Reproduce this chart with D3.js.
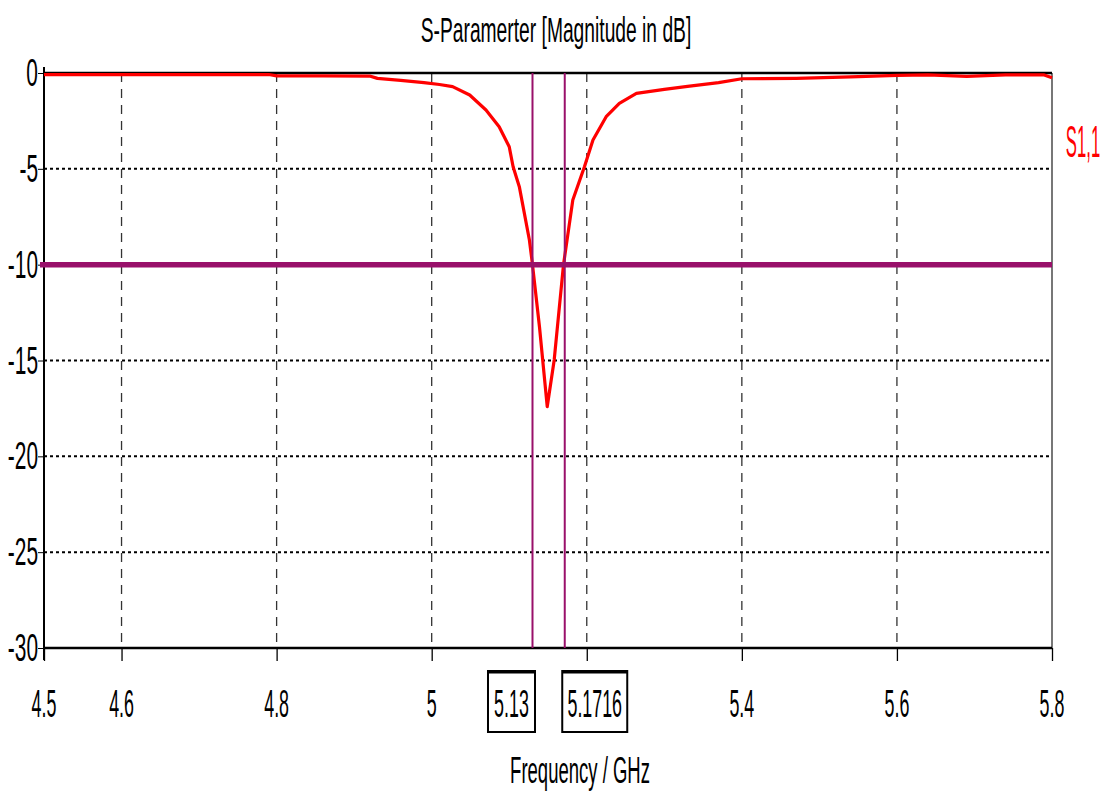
<!DOCTYPE html>
<html>
<head>
<meta charset="utf-8">
<script src="https://cdn.jsdelivr.net/npm/d3@7"></script>
<style>
  html, body { margin:0; padding:0; background:#fff; }
  svg { display:block; }
  text { font-family:'Liberation Sans', Arial, sans-serif; fill:#000; }
</style>
</head>
<body>
<svg id="chart" width="1108" height="796"></svg>
<script>
'use strict';
// S1,1 trace (GHz, dB)
const freq = [4.50, 4.60, 4.70, 4.79, 4.80, 4.86, 4.92, 4.93, 4.96, 4.99, 5.01, 5.027, 5.049, 5.070, 5.087,
  5.100, 5.105, 5.113, 5.126, 5.130, 5.139, 5.149, 5.158, 5.170, 5.182, 5.197, 5.208, 5.225, 5.242, 5.264,
  5.30, 5.33, 5.37, 5.40, 5.47, 5.54, 5.60, 5.64, 5.69, 5.74, 5.79, 5.80];
const s11 = [-0.08, -0.08, -0.08, -0.08, -0.15, -0.15, -0.16, -0.28, -0.38, -0.5, -0.6, -0.71, -1.15, -1.93, -2.80,
  -3.85, -4.89, -5.93, -8.71, -10.0, -13.24, -17.41, -14.97, -10.0, -6.63, -4.89, -3.50, -2.28, -1.58, -1.06,
  -0.85, -0.70, -0.50, -0.30, -0.28, -0.20, -0.12, -0.10, -0.18, -0.10, -0.10, -0.25];

const xTicks = [4.5, 4.6, 4.8, 5, 5.2, 5.4, 5.6, 5.8];
const xGrid = [4.6, 4.8, 5, 5.2, 5.4, 5.6];
const xHidden = [5.2];
const yTicks = [0, -5, -10, -15, -20, -25, -30];
const markerFreqs = [5.13, 5.1716];
const markerLabels = ['5.13', '5.1716'];
const markerLevel = -10;

const svg = d3.select('#chart');
const x = d3.scaleLinear().domain([4.5, 5.8]).range([44, 1052]);
const y = d3.scaleLinear().domain([0, -30]).range([73, 648]);
const purple = '#99106a';

// the source uses a tall condensed face, so squeeze the text horizontally
function label(g, tx, ty, str, opts) {
  opts = opts || {};
  return g.append('text')
    .attr('transform', `translate(${tx},${ty}) scale(${opts.sx||0.5},1)`)
    .attr('text-anchor', opts.anchor || 'middle')
    .style('font-size', (opts.size || 38) + 'px')
    .style('fill', opts.fill || '#000')
    .text(str);
}

// grid
const grid = svg.append('g');
grid.selectAll('line.v').data(xGrid).join('line')
  .attr('x1', d => x(d)).attr('x2', d => x(d)).attr('y1', y(0)).attr('y2', y(-30))
  .attr('stroke', '#333').attr('stroke-width', 1.3).attr('stroke-dasharray', '9,7');
grid.selectAll('line.h').data(yTicks.filter(d => d !== 0 && d !== -30 && d !== markerLevel)).join('line')
  .attr('x1', x(4.5)).attr('x2', x(5.8)).attr('y1', d => y(d)).attr('y2', d => y(d))
  .attr('stroke', '#000').attr('stroke-width', 2).attr('stroke-dasharray', '3,3');

// frame
svg.append('line').attr('x1', x(5.8)).attr('x2', x(5.8)).attr('y1', y(0)).attr('y2', y(-30))
  .attr('stroke', '#777').attr('stroke-width', 2);
svg.append('line').attr('x1', x(4.5)).attr('x2', x(5.8)).attr('y1', y(0)).attr('y2', y(0))
  .attr('stroke', '#000').attr('stroke-width', 2.5);
svg.append('line').attr('x1', x(4.5)).attr('x2', x(5.8)).attr('y1', y(-30)).attr('y2', y(-30))
  .attr('stroke', '#000').attr('stroke-width', 2.5);

// axes
const yAxis = svg.append('g').attr('transform', `translate(${x(4.5)},0)`)
  .call(d3.axisLeft(y).tickValues(yTicks).tickSize(6).tickFormat(''));
yAxis.select('.domain').attr('d', `M0,${y(0)-6}V${y(-30)+12}`).attr('stroke-width', 2);
yTicks.forEach(v => label(svg, 38, y(v) + 13, d3.format('d')(v).replace('−', '-'), { anchor:'end', sx:0.55 }));

const xAxis = svg.append('g').attr('transform', `translate(0,${y(-30)})`)
  .call(d3.axisBottom(x).tickValues(xTicks).tickSize(13).tickFormat(''));
xAxis.select('.domain').remove();
xAxis.selectAll('.tick line').attr('stroke-width', 1.3);
xTicks.filter(v => !xHidden.includes(v))
  .forEach(v => label(svg, x(v), 717, String(v), { sx:0.47 }));

// curve
const line = d3.line().x((d, i) => x(freq[i])).y(d => y(d));
svg.append('path').datum(s11).attr('d', line)
  .attr('fill', 'none').attr('stroke', '#ff0000').attr('stroke-width', 3.2).attr('stroke-linejoin', 'round');

// markers
svg.append('line').attr('x1', x(4.5) - 4).attr('x2', x(5.8)).attr('y1', y(markerLevel)).attr('y2', y(markerLevel))
  .attr('stroke', purple).attr('stroke-width', 5.5);
svg.selectAll('line.mk').data(markerFreqs).join('line')
  .attr('x1', d => x(d)).attr('x2', d => x(d)).attr('y1', y(0)).attr('y2', y(-30))
  .attr('stroke', purple).attr('stroke-width', 2);
markerFreqs.forEach((f, i) => {
  const w = i === 0 ? 47 : 65;
  const cx = i === 0 ? x(f) - 21 : x(f) + 30;
  svg.append('rect').attr('x', cx - w / 2).attr('y', 671).attr('width', w).attr('height', 61)
    .attr('fill', '#fff').attr('stroke', '#000').attr('stroke-width', 2);
  svg.append('line').attr('x1', cx - w / 2).attr('x2', cx + w / 2).attr('y1', 672).attr('y2', 672)
    .attr('stroke', '#000').attr('stroke-width', 3);
  label(svg, cx, 717, markerLabels[i], { sx:0.47 });
});

// titles
label(svg, 556, 42, 'S-Paramerter [Magnitude in dB]', { size:35, sx:0.55 });
label(svg, 580, 783, 'Frequency / GHz', { size:37, sx:0.5 });
label(svg, 1083, 157, 'S1,1', { size:44, sx:0.38, fill:'#ff0000' });
</script>
</body>
</html>
